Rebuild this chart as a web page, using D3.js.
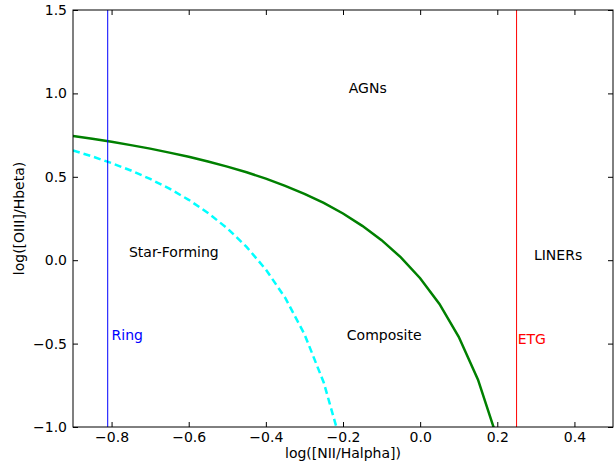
<!DOCTYPE html>
<html>
<head>
<meta charset="utf-8">
<script src="https://cdn.jsdelivr.net/npm/d3@7"></script>
<style>
  body { margin: 0; background: #fff; }
  text { font-family: "DejaVu Sans", sans-serif; }
</style>
</head>
<body>
<svg id="bpt"></svg>
<script>
// Kewley (solid green) curve
var kewleyX = [-0.9, -0.85, -0.8, -0.75, -0.7, -0.65, -0.6, -0.55, -0.5, -0.45, -0.4, -0.35,
               -0.3, -0.25, -0.2, -0.15, -0.1, -0.05, 0.0, 0.05, 0.1, 0.15, 0.2];
var kewleyY = [0.745, 0.728, 0.710, 0.690, 0.669, 0.645, 0.620, 0.592, 0.561, 0.527, 0.489, 0.446,
               0.398, 0.343, 0.280, 0.206, 0.120, 0.017, -0.108, -0.262, -0.459, -0.716, -1.069];

// Kauffmann (dashed cyan) curve
var kauffX = [-0.9, -0.85, -0.8, -0.75, -0.7, -0.65, -0.6, -0.55, -0.5, -0.45, -0.4, -0.35,
              -0.3, -0.25, -0.2];
var kauffY = [0.658, 0.622, 0.582, 0.538, 0.487, 0.429, 0.362, 0.283, 0.191, 0.080, -0.056, -0.225,
              -0.443, -0.733, -1.140];

// vertical reference lines
var ringX = -0.81;
var etgX = 0.25;

// region labels
var labelText = ["AGNs", "Star-Forming", "LINERs", "Composite", "Ring", "ETG"];
var labelX = [-0.185, -0.755, 0.295, -0.19, -0.8, 0.253];
var labelY = [1.0, 0.02, 0.0, -0.48, -0.48, -0.5];
var labelColor = ["#000", "#000", "#000", "#000", "blue", "red"];

var xTicks = [-0.8, -0.6, -0.4, -0.2, 0.0, 0.2, 0.4];
var yTicks = [-1.0, -0.5, 0.0, 0.5, 1.0, 1.5];

var width = 615, height = 466;
var margin = {top: 10, right: 2, bottom: 39, left: 73};
var w = width - margin.left - margin.right;
var h = height - margin.top - margin.bottom;

var svg = d3.select("#bpt")
    .attr("width", width)
    .attr("height", height);

var x = d3.scaleLinear().domain([-0.9, 0.5]).range([0, w]);
var y = d3.scaleLinear().domain([-1.0, 1.5]).range([h, 0]);

var g = svg.append("g")
    .attr("transform", "translate(" + margin.left + "," + margin.top + ")");

svg.append("defs").append("clipPath")
    .attr("id", "clip")
  .append("rect")
    .attr("width", w)
    .attr("height", h);

var plot = g.append("g").attr("clip-path", "url(#clip)");

var line = d3.line()
    .x(d => x(d[0]))
    .y(d => y(d[1]));

plot.append("path")
    .datum(kewleyX.map((v, i) => [v, kewleyY[i]]))
    .attr("fill", "none")
    .attr("stroke", "green")
    .attr("stroke-width", 2.5)
    .attr("d", line);

plot.append("path")
    .datum(kauffX.map((v, i) => [v, kauffY[i]]))
    .attr("fill", "none")
    .attr("stroke", "cyan")
    .attr("stroke-width", 2.5)
    .attr("stroke-dasharray", "7,4")
    .attr("d", line);

plot.append("line")
    .attr("x1", x(ringX)).attr("x2", x(ringX))
    .attr("y1", 0).attr("y2", h)
    .attr("stroke", "blue")
    .attr("stroke-width", 1);

plot.append("line")
    .attr("x1", x(etgX)).attr("x2", x(etgX))
    .attr("y1", 0).attr("y2", h)
    .attr("stroke", "red")
    .attr("stroke-width", 1);

g.selectAll(".region")
    .data(labelText)
    .enter()
  .append("text")
    .classed("region", true)
    .attr("x", (d, i) => x(labelX[i]))
    .attr("y", (d, i) => y(labelY[i]))
    .attr("font-size", "14px")
    .attr("fill", (d, i) => labelColor[i])
    .text(d => d);

// axes with inward ticks on all four sides
function styleAxis(sel) {
    sel.select(".domain").remove();
    sel.selectAll("line").attr("stroke", "#000");
    sel.selectAll("text")
        .attr("font-size", "14px")
        .attr("font-family", "DejaVu Sans, sans-serif")
        .attr("fill", "#000");
}

var fmt = d => d3.format(".1f")(d).replace("-", "\u2212");

g.append("g")
    .attr("transform", "translate(0," + h + ")")
    .call(d3.axisBottom(x).tickValues(xTicks).tickFormat(fmt).tickSizeInner(-5).tickSizeOuter(0).tickPadding(5))
    .call(styleAxis);

g.append("g")
    .call(d3.axisTop(x).tickValues(xTicks).tickFormat("").tickSizeInner(-5).tickSizeOuter(0))
    .call(styleAxis);

g.append("g")
    .call(d3.axisLeft(y).tickValues(yTicks).tickFormat(fmt).tickSizeInner(-5).tickSizeOuter(0).tickPadding(6))
    .call(styleAxis);

g.append("g")
    .attr("transform", "translate(" + w + ",0)")
    .call(d3.axisRight(y).tickValues(yTicks).tickFormat("").tickSizeInner(-5).tickSizeOuter(0))
    .call(styleAxis);

g.append("rect")
    .attr("width", w)
    .attr("height", h)
    .attr("fill", "none")
    .attr("stroke", "#000")
    .attr("stroke-width", 1);

svg.append("text")
    .attr("x", margin.left + w / 2)
    .attr("y", 458)
    .attr("font-size", "14px")
    .style("text-anchor", "middle")
    .text("log([NII/Halpha])");

svg.append("text")
    .attr("transform", "translate(24," + (margin.top + h / 2) + ") rotate(-90)")
    .attr("font-size", "14px")
    .style("text-anchor", "middle")
    .text("log([OIII]/Hbeta)");
</script>
</body>
</html>
